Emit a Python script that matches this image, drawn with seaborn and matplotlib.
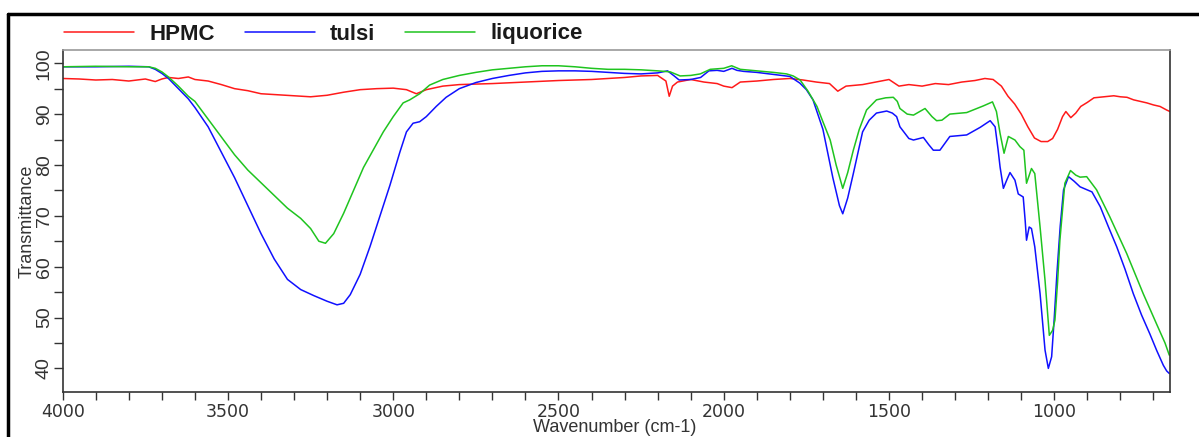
import matplotlib
matplotlib.use("Agg")
import matplotlib.pyplot as plt
from matplotlib.ticker import MultipleLocator
from matplotlib.lines import Line2D
import seaborn as sns
import pandas as pd

# ---------------- data ----------------
hpmc_wn = [4000, 3950, 3900, 3850, 3800, 3750, 3720, 3700, 3680, 3650, 3620, 3600, 3560, 3520,
           3480, 3440, 3400, 3350, 3300, 3250, 3200, 3150, 3100, 3050, 3000, 2960, 2930, 2900,
           2850, 2800, 2700, 2600, 2500, 2400, 2300, 2250, 2200, 2175, 2165, 2155, 2140, 2100,
           2060, 2020, 2000, 1975, 1950, 1900, 1850, 1800, 1760, 1720, 1680, 1655, 1630, 1580,
           1540, 1500, 1470, 1440, 1400, 1360, 1320, 1280, 1240, 1210, 1185, 1160, 1140, 1120,
           1100, 1080, 1060, 1040, 1020, 1005, 990, 975, 965, 950, 935, 920, 900, 880, 850, 820,
           800, 780, 760, 740, 720, 700, 680, 660, 650]
hpmc_t = [97.0, 96.9, 96.7, 96.8, 96.5, 96.9, 96.4, 96.9, 97.2, 97.0, 97.3, 96.8, 96.5, 95.8,
          95.0, 94.6, 94.0, 93.8, 93.6, 93.4, 93.7, 94.3, 94.8, 95.0, 95.1, 94.8, 94.0, 94.8,
          95.5, 95.8, 96.0, 96.3, 96.6, 96.8, 97.2, 97.5, 97.6, 96.5, 93.5, 95.5, 96.3, 96.8,
          96.3, 96.0, 95.5, 95.2, 96.3, 96.5, 96.8, 97.0, 96.7, 96.3, 96.0, 94.5, 95.5, 95.8,
          96.3, 96.8, 95.5, 95.8, 95.5, 96.0, 95.8, 96.3, 96.6, 97.0, 96.8, 95.5, 93.5, 92.0,
          90.0, 87.5, 85.3, 84.6, 84.6, 85.2, 87.0, 89.5, 90.5, 89.3, 90.2, 91.5, 92.3, 93.2,
          93.4, 93.6, 93.4, 93.3, 92.8, 92.5, 92.2, 91.8, 91.5, 90.8, 90.5]

tulsi_wn = [4000, 3900, 3800, 3740, 3720, 3700, 3680, 3650, 3620, 3600, 3560, 3520, 3480, 3440,
            3400, 3360, 3320, 3280, 3240, 3200, 3170, 3150, 3130, 3100, 3070, 3040, 3010, 2980,
            2960, 2940, 2920, 2900, 2870, 2840, 2800, 2750, 2700, 2650, 2600, 2550, 2500, 2450,
            2400, 2350, 2300, 2250, 2200, 2170, 2150, 2135, 2100, 2070, 2045, 2020, 2000, 1975,
            1960, 1940, 1900, 1850, 1800, 1770, 1750, 1730, 1700, 1670, 1650, 1640, 1625, 1608,
            1580, 1560, 1538, 1507, 1490, 1477, 1467, 1440, 1426, 1396, 1380, 1366, 1346, 1316,
            1265, 1224, 1194, 1179, 1170, 1164, 1154, 1144, 1134, 1119, 1109, 1094, 1088, 1084,
            1076, 1069, 1059, 1043, 1028, 1018, 1008, 1000, 992, 982, 972, 957, 940, 922, 886,
            861, 836, 811, 786, 761, 736, 711, 690, 670, 660, 652]
tulsi_t = [99.3, 99.3, 99.4, 99.3, 98.8, 98.0, 97.0, 95.0, 93.0, 91.3, 87.5, 82.5, 77.5, 72.0,
           66.5, 61.5, 57.5, 55.5, 54.3, 53.2, 52.5, 52.8, 54.5, 58.5, 64.0, 70.0, 76.0, 82.5,
           86.5, 88.2, 88.5, 89.5, 91.5, 93.3, 95.0, 96.2, 97.0, 97.6, 98.1, 98.4, 98.5, 98.5,
           98.4, 98.2, 98.0, 97.9, 98.1, 98.5, 97.5, 96.7, 96.8, 97.2, 98.5, 98.6, 98.4, 99.0,
           98.6, 98.4, 98.2, 97.8, 97.4, 96.1, 94.8, 92.8, 87.0, 77.5, 72.0, 70.4, 73.5, 78.3,
           86.5, 88.8, 90.2, 90.6, 90.2, 89.5, 87.5, 85.2, 84.9, 85.4, 84.0, 82.9, 82.9, 85.6,
           85.9, 87.4, 88.7, 87.5, 83.0, 79.6, 75.4, 77.0, 78.5, 77.0, 74.3, 73.7, 69.0, 65.2,
           67.8, 67.5, 63.9, 54.7, 43.6, 40.0, 42.3, 50.0, 58.7, 68.0, 75.1, 77.7, 76.8, 75.7, 74.7,
           71.8, 67.8, 63.9, 59.5, 54.7, 50.5, 46.8, 43.5, 40.6, 39.5, 39.0]

liq_wn = [4000, 3900, 3800, 3740, 3720, 3700, 3680, 3650, 3620, 3600, 3560, 3520, 3480, 3440,
          3400, 3360, 3320, 3280, 3250, 3225, 3205, 3180, 3150, 3120, 3090, 3060, 3030, 3000,
          2970, 2950, 2920, 2890, 2850, 2800, 2750, 2700, 2650, 2600, 2550, 2500, 2450, 2400,
          2350, 2300, 2250, 2200, 2162, 2132, 2100, 2071, 2041, 2000, 1976, 1950, 1900, 1850,
          1810, 1790, 1769, 1745, 1718, 1700, 1678, 1660, 1640, 1625, 1608, 1590, 1568, 1538,
          1510, 1487, 1475, 1467, 1445, 1426, 1391, 1370, 1356, 1340, 1316, 1265, 1215, 1187,
          1175, 1164, 1152, 1139, 1119, 1104, 1092, 1084, 1069, 1059, 1043, 1028, 1015, 1005,
          998, 990, 983, 968, 951, 935, 922, 902, 872, 832, 781, 731, 691, 665, 652]
liq_t = [99.3, 99.4, 99.3, 99.3, 99.0, 98.3, 97.3, 95.5, 93.5, 92.5, 89.0, 85.5, 82.0, 79.0,
         76.5, 74.0, 71.5, 69.5, 67.5, 65.0, 64.6, 66.5, 70.5, 75.0, 79.5, 83.0, 86.5, 89.5,
         92.2, 92.8, 94.0, 95.7, 96.8, 97.6, 98.2, 98.7, 99.0, 99.3, 99.5, 99.5, 99.3, 99.0,
         98.8, 98.8, 98.7, 98.5, 98.3, 97.5, 97.6, 97.9, 98.8, 99.0, 99.5, 98.8, 98.5, 98.2,
         97.9, 97.5, 96.7, 94.5, 91.5, 88.5, 84.9, 80.0, 75.4, 78.5, 82.9, 87.0, 90.8, 92.8,
         93.2, 93.3, 92.5, 91.1, 90.0, 89.8, 91.1, 89.5, 88.7, 88.8, 90.0, 90.3, 91.6, 92.4,
         90.5, 86.2, 82.3, 85.6, 84.9, 83.6, 82.9, 76.4, 79.3, 78.3, 67.8, 57.3, 46.5, 47.5,
         49.5, 57.0, 65.2, 76.4, 78.9, 78.0, 77.6, 77.7, 75.1, 69.8, 62.6, 54.7, 48.8, 45.0, 42.6]

x_major_ticks = [4000, 3500, 3000, 2500, 2000, 1500, 1000]
y_major_ticks = [40, 50, 60, 70, 80, 90, 100]

# ---------------- figure ----------------
sns.set_style("white")
plt.rcParams['font.family'] = ['Liberation Sans', 'DejaVu Sans']

W, H = 1199, 437
fig = plt.figure(figsize=(W / 100, H / 100), dpi=100)
ax = fig.add_axes([62.7 / W, 1 - 392.3 / H, (1170.3 - 62.7) / W, (392.3 - 50) / H])

series = [("HPMC", hpmc_wn, hpmc_t, "#ff1a1a"),
          ("tulsi", tulsi_wn, tulsi_t, "#1010ff"),
          ("liquorice", liq_wn, liq_t, "#1fc41f")]
for name, wn, t, col in series:
    df = pd.DataFrame({"wn": wn, "t": t})
    sns.lineplot(data=df, x="wn", y="t", sort=False, color=col, lw=1.1, ax=ax,
                 label=name, estimator=None)

ax.set_xlim(4000, 649)
ax.set_ylim(35.3, 102.6)
ax.set_xticks(x_major_ticks)
ax.set_yticks(y_major_ticks)
ax.xaxis.set_minor_locator(MultipleLocator(100))
ax.yaxis.set_minor_locator(MultipleLocator(5))
ax.tick_params(axis='both', which='both', direction='out', width=1,
               color='#333333', bottom=True, left=True)
ax.tick_params(axis='x', which='both', length=5.5)
ax.tick_params(axis='y', which='both', length=6.5)
ax.tick_params(axis='x', labelsize=12.5, labelcolor='#333333', pad=2.5)
ax.tick_params(axis='y', labelsize=14, labelcolor='#333333', pad=0.5)
for lab in ax.get_xticklabels():
    lab.set_family('DejaVu Sans')
for lab in ax.get_yticklabels():
    lab.set_rotation(90)
    lab.set_va('center')

for s in ['left', 'bottom', 'right']:
    ax.spines[s].set_color('#333333')
    ax.spines[s].set_linewidth(1.2)
ax.spines['top'].set_color('#9a9a9a')
ax.spines['top'].set_linewidth(1.2)

ax.set_xlabel("")
ax.set_ylabel("")
fig.text(615 / W, 1 - 428 / H, "Wavenumber (cm-1)", ha='center', va='center',
         fontsize=13, color='#333333')
fig.text(27.5 / W, 1 - 221 / H, "Transmittance", ha='center', va='center',
         rotation=90, fontsize=13, color='#333333')

leg = ax.legend(loc='center left', bbox_to_anchor=(64 / W, 1 - 34 / H),
                bbox_transform=fig.transFigure, ncol=3, frameon=False,
                handlelength=3.15, handletextpad=0.68, columnspacing=1.35,
                borderpad=0, borderaxespad=0,
                prop={'family': 'Liberation Sans', 'size': 16, 'weight': 'bold'})
for txt in leg.get_texts():
    txt.set_color('#1a1a1a')

# outer frame
fig.add_artist(Line2D([8 / W, 1.0], [1 - 14 / H, 1 - 14 / H], transform=fig.transFigure,
                      color='black', lw=2.5))
fig.add_artist(Line2D([8 / W, 8 / W], [0, 1 - 14 / H], transform=fig.transFigure,
                      color='black', lw=2.5))

fig.savefig("out.png", dpi=100)
